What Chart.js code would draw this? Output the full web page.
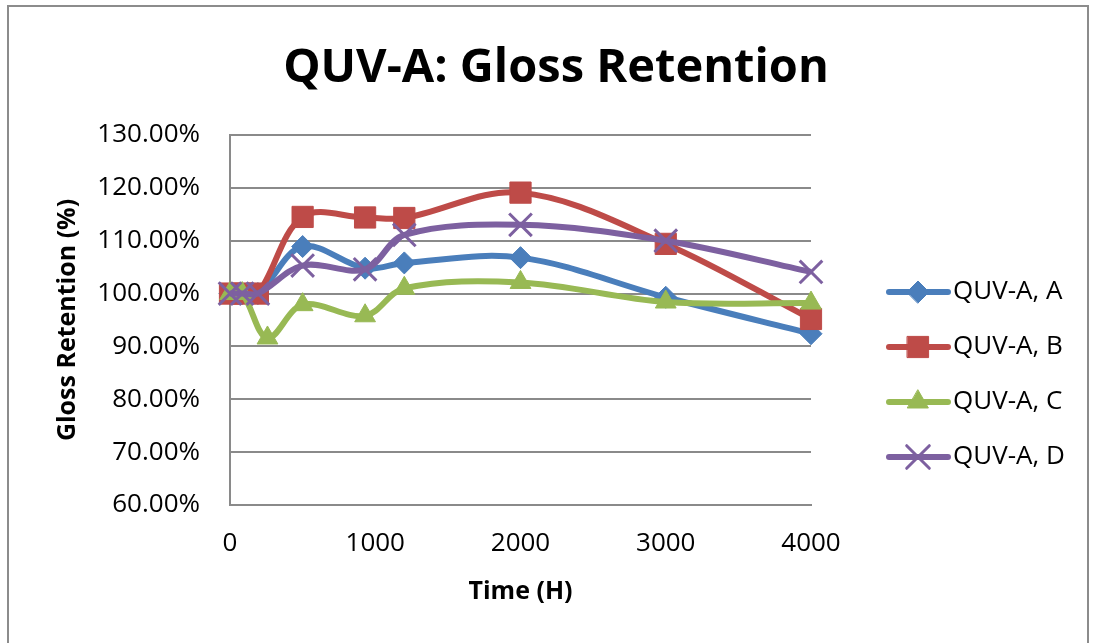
<!DOCTYPE html>
<html>
<head>
<meta charset="utf-8">
<title>QUV-A: Gloss Retention</title>
<script src="https://cdn.jsdelivr.net/npm/chart.js@4.4.0/dist/chart.umd.min.js"></script>
<style>
    html, body { margin: 0; padding: 0; background: #fff; }
    #wrap { width: 1095px; height: 643px; position: relative; }
</style>
</head>
<body>
<div id="wrap"><canvas id="glossChart" width="1095" height="643"></canvas></div>
<script>
// ---- data ----
const hoursABD = [0, 84, 192, 500, 930, 1200, 2000, 3000, 4000];
const hoursC = [0, 84, 258, 500, 930, 1200, 2000, 3000, 4000];

const seriesA = [100, 100, 100, 108.9, 104.8, 105.8, 106.8, 99.3, 92.4];
const seriesB = [100, 100, 100, 114.5, 114.4, 114.3, 119.1, 109.4, 95.2];
const seriesC = [100, 100, 91.6, 97.9, 95.8, 101.0, 102.1, 98.4, 98.2];
const seriesD = [100, 100, 100, 105.3, 104.6, 111.1, 113.0, 110.0, 104.1];

const seriesNames = ['QUV-A, A', 'QUV-A, B', 'QUV-A, C', 'QUV-A, D'];
const xTicks = [0, 1000, 2000, 3000, 4000];
const yMin = 60, yMax = 130, yStep = 10;

const FONT = '"Open Sans", "Liberation Sans", sans-serif';
const GRID = '#8a8a8a';

function toPoints(xs, ys) {
    return xs.map((x, i) => ({ x: x, y: ys[i] }));
}

function makeSet(label, xs, ys, color, style, radius, order) {
    return {
        label: label,
        data: toPoints(xs, ys),
        borderColor: color,
        backgroundColor: color,
        pointBackgroundColor: color,
        pointBorderColor: color,
        pointStyle: style,
        pointRadius: radius,
        pointBorderWidth: style === 'crossRot' ? 3 : 1,
        borderWidth: 6,
        tension: 0.35,
        clip: false,
        order: order
    };
}

const datasets = [
    makeSet(seriesNames[0], hoursABD, seriesA, '#4a7ebb', 'rectRot', 11, 3),
    makeSet(seriesNames[1], hoursABD, seriesB, '#be4b48', 'rect', 15, 2),
    makeSet(seriesNames[2], hoursC, seriesC, '#98b954', 'triangle', 12, 1),
    makeSet(seriesNames[3], hoursABD, seriesD, '#7d60a0', 'crossRot', 16, 0)
];

// outer frame of the chart object + centred title
const framePlugin = {
    id: 'frame',
    beforeDraw(chart) {
        const ctx = chart.ctx;
        ctx.save();
        ctx.fillStyle = '#fff';
        ctx.fillRect(0, 0, chart.width, chart.height);
        ctx.strokeStyle = '#8c8c8c';
        ctx.lineWidth = 2;
        ctx.strokeRect(8, 6, 1080, 700);
        ctx.fillStyle = '#000';
        ctx.font = 'bold 47px ' + FONT;
        ctx.textAlign = 'center';
        ctx.textBaseline = 'middle';
        ctx.fillText('QUV-A: Gloss Retention', 556, 69);
        ctx.restore();
    }
};

// Excel-like legend: line with marker, text to the right
const lineLegend = {
    id: 'lineLegend',
    afterDraw(chart) {
        const ctx = chart.ctx;
        ctx.save();
        chart.data.datasets.forEach((ds, i) => {
            const y = 292 + i * 55;
            ctx.strokeStyle = ds.borderColor;
            ctx.lineWidth = 6;
            ctx.lineCap = 'round';
            ctx.beginPath();
            ctx.moveTo(889, y);
            ctx.lineTo(948, y);
            ctx.stroke();
            ctx.fillStyle = ds.pointBackgroundColor;
            ctx.strokeStyle = ds.pointBorderColor;
            ctx.lineWidth = ds.pointBorderWidth;
            Chart.helpers.drawPoint(ctx, {
                pointStyle: ds.pointStyle,
                radius: ds.pointRadius,
                rotation: 0,
                borderWidth: ds.pointBorderWidth
            }, 918, y);
            ctx.fillStyle = '#000';
            ctx.font = '26px ' + FONT;
            ctx.textBaseline = 'middle';
            ctx.textAlign = 'left';
            ctx.fillText(ds.label, 953, y);
        });
        ctx.restore();
    }
};

const ctx = document.getElementById('glossChart').getContext('2d');
const glossChart = new Chart(ctx, {
    type: 'line',
    data: { datasets: datasets },
    plugins: [framePlugin, lineLegend],
    options: {
        responsive: false,
        animation: false,
        layout: { padding: { left: 20, right: 284, top: 135, bottom: 28 } },
        plugins: {
            legend: { display: false },
            tooltip: { enabled: false },
            title: { display: false }
        },
        scales: {
            x: {
                type: 'linear',
                min: 0,
                max: 4000,
                afterFit(scale) { scale.height = 110; },
                afterBuildTicks(scale) { scale.ticks = xTicks.map(v => ({ value: v })); },
                grid: { display: false, drawTicks: false },
                border: { display: true, color: GRID, width: 2 },
                ticks: {
                    padding: 23,
                    color: '#000',
                    maxRotation: 0,
                    font: { family: FONT, size: 26 },
                    callback: v => String(v)
                },
                title: {
                    display: true,
                    text: 'Time (H)',
                    color: '#000',
                    font: { family: FONT, size: 25, weight: 'bold', lineHeight: 1.2 },
                    padding: { top: 0, bottom: 8 }
                }
            },
            y: {
                min: yMin,
                max: yMax,
                afterFit(scale) { scale.width = 210; },
                grid: { color: GRID, lineWidth: 2, drawTicks: false },
                border: { display: true, color: GRID, width: 2 },
                ticks: {
                    stepSize: yStep,
                    padding: 30,
                    color: '#000',
                    font: { family: FONT, size: 26 },
                    callback: v => v.toFixed(2) + '%'
                },
                title: {
                    display: true,
                    text: 'Gloss Retention (%)',
                    color: '#000',
                    font: { family: FONT, size: 25, weight: 'bold', lineHeight: 1.2 },
                    padding: { top: 33, bottom: 0 }
                }
            }
        }
    }
});
</script>
</body>
</html>
